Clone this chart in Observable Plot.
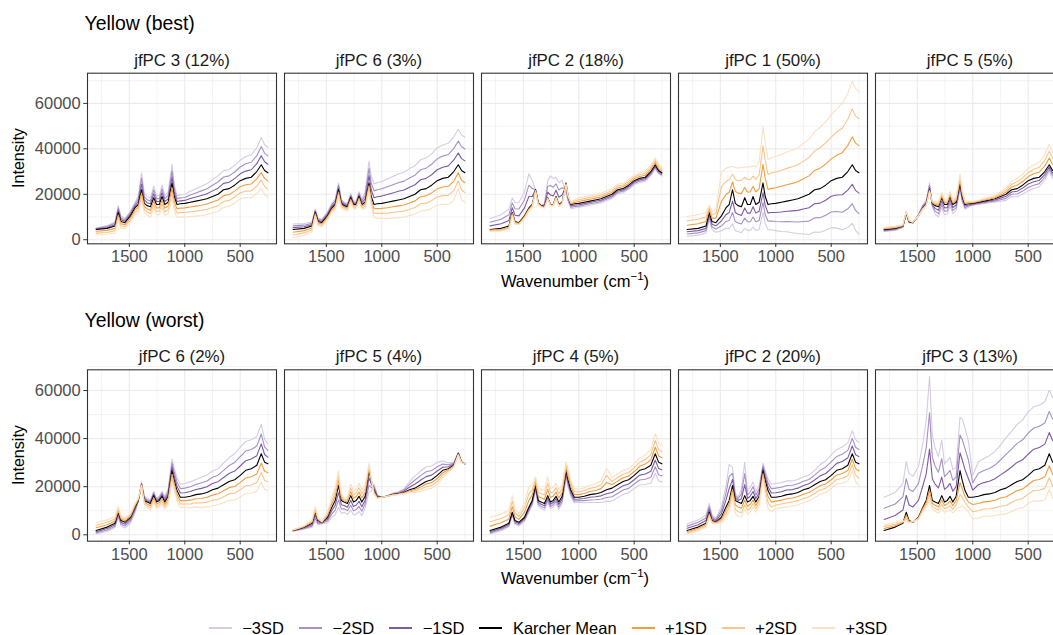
<!DOCTYPE html>
<html><head><meta charset="utf-8">
<script src="https://cdn.jsdelivr.net/npm/d3@7"></script>
<script src="https://cdn.jsdelivr.net/npm/@observablehq/plot@0.6"></script>
<style>
html,body{margin:0;padding:0;background:#fff;}
body{width:1053px;height:635px;overflow:hidden;position:relative;font-family:"Liberation Sans",Arial,Helvetica,sans-serif;}
.abs{position:absolute;white-space:nowrap;}
.title{font-size:19.4px;line-height:19.4px;color:#000;left:84.5px;}
.xlab{font-size:16.5px;line-height:16.5px;left:0;width:1150px;text-align:center;color:#000;}
.ylab{font-size:16.1px;line-height:16.1px;width:200px;text-align:center;color:#000;transform:rotate(-90deg);}
.sup{font-size:11.5px;position:relative;top:-7px;}
#legend{left:0;width:1096px;display:flex;justify-content:center;align-items:center;font-size:16.5px;line-height:16.5px;color:#000;}
.item{display:flex;align-items:center;margin-left:15px;}
.item:first-child{margin-left:0;}
.sw{width:23px;height:1.6px;margin-right:10.5px;}
svg{max-width:none !important;}
</style>
</head><body>
<div id="root"></div>
<script>
// ---------- data (intensities in thousands) ----------
const wavenumber = [1800,1700,1630,1600,1575,1540,1490,1450,1420,1390,
  1365,1340,1310,1280,1255,1230,1205,1180,1150,1115,
  1095,1070,1040,1000,950,900,850,800,750,700,
  650,600,550,500,450,400,350,310,280,250];

const meanBest = [4.5,5.0,6.0,12.0,8.0,7.5,10.5,14.0,15.5,22.0,
  16.0,15.0,14.5,18.5,15.5,15.5,19.0,15.5,16.5,25.0,
  19.0,15.5,15.8,16.0,16.5,17.0,17.5,18.0,19.0,20.0,
  22.0,22.5,24.0,26.0,27.0,27.5,30.0,33.0,30.5,29.5];

const meanWorst = [1.8,3.2,4.8,9.4,5.9,5.2,7.3,11.5,14.3,20.5,
  14.3,13.6,13.0,16.3,13.6,14.3,16.0,13.6,16.0,26.7,
  22.6,18.4,15.6,15.6,16.0,16.7,17.0,17.6,18.7,19.4,
  20.8,22.2,22.9,24.7,26.8,27.5,28.9,33.7,30.2,29.5];

const levels = ["\u22123SD","\u22122SD","\u22121SD","Karcher Mean","+1SD","+2SD","+3SD"];
const levelSD = [-3,-2,-1,0,1,2,3];
const levelColors = ["#d5cce4","#a690c5","#7d5aa4","#000000","#f49c3e","#f8c58a","#fbe0c2"];

const bestFacets = ["jfPC 3 (12%)","jfPC 6 (3%)","jfPC 2 (18%)","jfPC 1 (50%)","jfPC 5 (5%)"];
const worstFacets = ["jfPC 6 (2%)","jfPC 5 (4%)","jfPC 4 (5%)","jfPC 2 (20%)","jfPC 3 (13%)"];

// per-SD deviation: plus side (toward +SD) and minus side (mean minus -1SD)
const bestPC3Plus = [-0.8,-0.9,-1.0,-1.1,-1.0,-0.9,-0.9,-1.0,-1.2,-1.5,-1.4,-1.4,-1.5,-1.6,-1.5,-1.5,-1.6,-1.6,-1.7,-2.2,-2.0,-1.9,-1.9,-2.0,-2.1,-2.2,-2.3,-2.3,-2.4,-2.5,-2.6,-2.6,-2.6,-2.7,-2.8,-3.0,-3.2,-3.4,-3.5,-3.6];
const bestPC3Minus = [-0.2,-0.4,-0.6,-1.0,-0.8,-0.6,-0.7,-0.8,-1.2,-2.5,-1.5,-1.3,-1.3,-1.7,-1.3,-1.3,-1.7,-1.3,-1.5,-2.7,-1.8,-1.3,-1.3,-1.3,-1.6,-1.8,-2.0,-2.2,-2.5,-2.7,-2.8,-2.8,-2.9,-3.0,-3.2,-3.3,-3.5,-4.0,-3.8,-3.7];
const bestPC6Plus = [-1.2,-1.0,-0.8,-0.6,-0.6,-0.6,-0.6,-0.7,-0.8,-1.0,-0.7,-0.6,-0.6,-0.7,-0.6,-0.6,-0.7,-0.7,-0.9,-1.2,-1.5,-1.9,-2.1,-2.2,-2.4,-2.5,-2.6,-2.7,-2.8,-2.9,-3.1,-3.2,-3.4,-3.6,-3.8,-4.0,-4.2,-3.5,-4.3,-4.4];
const bestPC6Minus = [-0.8,-0.7,-0.6,-0.5,-0.5,-0.5,-0.6,-0.7,-0.8,-1.0,-0.6,-0.5,-0.5,-0.6,-0.5,-0.5,-0.7,-0.8,-1.5,-3.2,-3.0,-3.0,-3.1,-3.2,-3.4,-3.6,-3.8,-3.9,-4.1,-4.2,-4.4,-4.5,-4.6,-4.8,-4.9,-5.0,-5.1,-5.2,-5.2,-5.2];
const bestPC2Plus = [-0.3,-0.4,-0.5,-0.5,-0.4,-0.3,-0.4,-0.5,-0.4,-0.3,-0.2,-0.2,-0.2,-0.2,-0.2,-0.2,-0.3,-0.3,-0.3,-0.3,0.0,0.3,0.6,0.8,0.8,0.8,0.8,0.8,0.8,0.8,0.8,0.8,0.8,0.8,0.8,0.9,0.9,1.0,0.9,0.8];
const bestPC2Minus = [-1.6,-2.0,-2.5,-2.1,-2.8,-3.0,-3.5,-5.0,-3.5,0.0,-0.2,0.0,-0.5,-2.5,-4.2,-3.8,-2.8,-3.2,-3.2,1.5,0.8,0.6,0.6,0.6,0.6,0.6,0.6,0.6,0.6,0.6,0.6,0.6,0.6,0.6,0.6,0.6,0.6,0.6,0.5,0.5];
const bestPC1Plus = [1.9,2.0,2.0,1.1,1.5,2.0,6.4,5.8,5.5,3.4,5.3,5.5,5.8,4.5,5.5,5.5,4.5,5.5,6.0,8.2,8.0,6.6,6.8,6.9,7.0,7.2,7.3,7.5,7.8,8.1,8.5,9.0,9.3,9.6,10.2,10.8,11.5,12.3,12.0,11.9];
const bestPC1Minus = [1.0,1.0,1.0,1.1,1.2,1.4,2.2,3.0,3.5,5.0,4.0,3.8,3.8,4.5,3.8,3.8,4.5,3.8,4.0,4.3,4.0,3.7,3.8,4.0,4.3,4.5,4.8,5.1,5.5,5.9,6.2,6.4,6.6,6.9,7.3,7.7,8.2,8.6,8.8,9.0];
const bestPC5Plus = [0.3,0.3,0.2,0.2,0.2,0.1,0.0,-0.2,-0.2,-0.3,0.3,0.6,0.7,0.8,0.7,0.7,0.8,0.7,0.8,1.3,0.9,0.5,0.4,0.3,0.3,0.4,0.4,0.5,0.7,0.9,1.2,1.5,1.6,1.8,2.0,2.2,2.5,3.0,2.7,2.5];
const bestPC5Minus = [0.3,0.3,0.2,0.2,0.2,0.0,-0.2,-0.5,-0.6,-1.0,0.5,1.2,1.5,1.5,1.5,1.4,1.4,1.3,1.2,1.0,0.8,0.7,0.5,0.3,0.3,0.4,0.4,0.5,0.7,0.9,1.0,1.2,1.3,1.5,1.5,1.4,1.2,1.0,1.1,1.2];

const worstPC6Plus = [1.1,1.0,0.9,0.8,0.7,0.6,0.5,0.5,0.3,0.0,-0.5,-0.8,-0.9,-0.9,-0.9,-0.9,-1.0,-1.0,-1.2,-1.5,-1.4,-1.4,-1.4,-1.4,-1.6,-1.7,-1.9,-2.0,-2.2,-2.3,-2.5,-2.6,-2.8,-3.0,-3.2,-3.4,-3.6,-3.9,-3.8,-3.7];
const worstPC6Minus = [0.5,0.6,0.6,0.7,0.7,0.8,0.8,0.8,0.2,-0.5,-0.6,-0.5,-0.5,-0.6,-0.5,-0.6,-0.7,-0.8,-1.0,-1.6,-1.7,-1.8,-1.8,-1.9,-2.0,-2.1,-2.3,-2.4,-2.6,-2.7,-3.0,-3.3,-3.6,-3.9,-4.0,-4.0,-4.0,-4.1,-3.2,-2.8];
const worstPC5Plus = [0.1,0.2,0.4,0.8,0.4,0.1,0.7,1.4,1.8,2.0,1.0,0.5,0.9,1.6,1.5,1.6,1.8,1.7,1.6,1.0,0.3,-0.5,-0.2,0.0,0.0,-0.1,-0.1,-0.2,-0.4,-0.6,-0.9,-1.1,-1.2,-1.3,-1.0,-0.5,-0.3,-0.2,-0.1,0.0];
const worstPC5Minus = [0.1,0.3,0.6,1.2,0.6,0.2,0.8,1.4,2.0,3.0,1.8,1.4,1.5,2.0,1.8,1.9,2.1,1.9,1.6,3.0,1.5,-0.9,-0.3,0.0,-0.1,-0.2,-0.3,-0.5,-1.1,-1.7,-1.9,-2.0,-1.9,-1.8,-1.3,-0.8,-0.4,-0.2,-0.1,0.0];
const worstPC4Plus = [1.8,1.8,1.8,2.3,1.6,1.2,2.0,2.8,2.2,1.2,1.6,1.8,1.8,2.6,1.9,1.8,1.8,1.7,1.6,1.2,1.5,1.4,1.2,1.1,1.2,1.3,1.4,1.6,3.0,1.4,1.5,1.5,1.5,1.6,1.7,1.9,2.2,2.8,2.6,2.5];
const worstPC4Minus = [0.5,0.5,0.5,0.4,0.5,0.5,0.6,0.7,0.7,0.7,0.8,0.9,0.9,1.0,0.9,0.9,1.0,1.0,1.0,1.1,1.0,0.9,0.8,0.7,0.9,1.1,1.2,1.4,1.6,1.8,1.8,1.8,1.8,1.8,2.0,2.2,2.5,2.7,2.6,2.5];
const worstPC2Plus = [-0.5,-0.5,-0.6,-0.7,-0.4,-0.2,-0.8,-1.4,-1.5,-1.6,-1.8,-2.0,-1.9,-1.9,-1.7,-1.6,-1.5,-1.4,-1.3,-1.2,-2.0,-2.5,-2.0,-1.6,-1.6,-1.7,-1.7,-1.7,-1.8,-1.8,-1.8,-1.8,-1.8,-1.8,-1.9,-2.0,-2.2,-2.3,-2.7,-3.0];
const worstPC2Minus = [-0.9,-1.0,-1.1,-1.2,-0.8,-0.5,-1.5,-2.8,-5.0,-2.5,-1.0,-0.7,-2.0,-4.6,-1.5,-1.8,-2.0,-1.5,-1.5,-1.0,-1.4,-1.6,-1.8,-1.9,-1.9,-1.9,-1.8,-1.8,-1.8,-1.8,-2.0,-2.3,-2.6,-2.8,-2.9,-3.0,-3.1,-3.2,-3.1,-3.0];
const worstPC3Plus = [0.8,0.6,0.3,-1.3,-0.3,0.1,-0.3,-0.6,-1.0,-2.0,-1.2,-1.3,-1.3,-1.8,-1.4,-1.5,-1.9,-1.5,-1.8,-5.0,-3.5,-2.5,-2.0,-3.0,-3.0,-3.0,-3.1,-3.2,-3.4,-3.6,-3.7,-3.8,-3.9,-3.9,-4.2,-4.5,-4.8,-5.0,-5.0,-5.0];
const worstPC3Minus = [-4.6,-4.8,-5.5,-7.0,-6.5,-6.4,-7.0,-8.9,-11.0,-15.1,-9.0,-7.5,-6.5,-7.7,-5.3,-5.5,-5.4,-4.5,-4.0,-7.4,-8.5,-8.7,-7.8,-3.0,-4.8,-5.0,-5.3,-5.7,-6.2,-7.0,-7.4,-7.9,-8.3,-8.8,-8.8,-8.8,-8.8,-8.8,-9.0,-9.0];

const xTicks = [1500,1000,500];
const xMinor = [1750,1250,750,250];
const yTicks = [0,20000,40000,60000];
const yMinor = [10000,30000,50000,70000];

// ---------- build tables ----------
function buildRows(facets, mean, plus, minus) {
  const rows = [];
  facets.forEach((f, j) => {
    levels.forEach((lev, li) => {
      const k = levelSD[li];
      wavenumber.forEach((wn, i) => {
        const d = k > 0 ? plus[j][i] : minus[j][i];
        rows.push({facet: f, level: lev, wn, intensity: (mean[i] + k * d) * 1000});
      });
    });
  });
  return rows;
}
const bestRows = buildRows(bestFacets, meanBest,
  [bestPC3Plus, bestPC6Plus, bestPC2Plus, bestPC1Plus, bestPC5Plus],
  [bestPC3Minus, bestPC6Minus, bestPC2Minus, bestPC1Minus, bestPC5Minus]);
const worstRows = buildRows(worstFacets, meanWorst,
  [worstPC6Plus, worstPC5Plus, worstPC4Plus, worstPC2Plus, worstPC3Plus],
  [worstPC6Minus, worstPC5Minus, worstPC4Minus, worstPC2Minus, worstPC3Minus]);

const FONT = '"Liberation Sans", Arial, Helvetica, sans-serif';

function rowPlot(facets, rows, yDomain, mt, mb, h) {
  return Plot.plot({
    width: 1070, height: h,
    marginLeft: 84.5, marginRight: 3.8, marginTop: mt, marginBottom: mb,
    style: {fontFamily: FONT, fontSize: "16.5px", background: "transparent", overflow: "visible", maxWidth: "none"},
    fx: {domain: facets, paddingInner: 0.0419, paddingOuter: 0, axis: null, label: null},
    x: {domain: [1877.5, 172.5], label: null},
    y: {domain: yDomain, label: null},
    color: {domain: levels, range: levelColors},
    marks: [
      Plot.gridX({ticks: xMinor, stroke: "#ebebeb", strokeOpacity: 1, strokeWidth: 0.6}),
      Plot.gridY({ticks: yMinor, stroke: "#ebebeb", strokeOpacity: 1, strokeWidth: 0.6}),
      Plot.gridX({ticks: xTicks, stroke: "#ebebeb", strokeOpacity: 1, strokeWidth: 1.1}),
      Plot.gridY({ticks: yTicks, stroke: "#ebebeb", strokeOpacity: 1, strokeWidth: 1.1}),
      Plot.line(rows, {fx: "facet", x: "wn", y: "intensity", z: "level", stroke: "level", strokeWidth: 1.1}),
      Plot.frame({stroke: "#333333", strokeWidth: 1.1}),
      Plot.axisX({ticks: xTicks, tickFormat: "d", tickSize: 3.7, tickPadding: 3, fontSize: 16.5, fill: "#4d4d4d", stroke: "#333333", label: null}),
      Plot.axisY({ticks: yTicks, tickFormat: "d", tickSize: 3.7, tickPadding: 3.1, fontSize: 16.5, fill: "#4d4d4d", stroke: "#333333", label: null}),
      Plot.text(facets, {fx: d => d, text: d => d, frameAnchor: "top", lineAnchor: "middle", dy: -13.1, fontSize: 16.9, fill: "#1a1a1a"})
    ]
  });
}

const root = document.getElementById("root");
function place(el, top) { el.style.position = "absolute"; el.style.left = "0px"; el.style.top = top + "px"; el.style.maxWidth = "none"; root.appendChild(el); }

place(rowPlot(bestFacets, bestRows, [-1800, 73300], 72.7, 28.7, 272), 0);
place(rowPlot(worstFacets, worstRows, [-2660, 68600], 97.3, 31.3, 300), 272);

function addDiv(cls, html, top, extra) {
  const d = document.createElement("div");
  d.className = "abs " + cls;
  d.innerHTML = html;
  d.style.top = top + "px";
  if (extra) Object.assign(d.style, extra);
  root.appendChild(d);
  return d;
}
addDiv("title", "Yellow (best)", 13.6);
addDiv("title", "Yellow (worst)", 311.3);
const xl = 'Wavenumber (cm<span class="sup">\u22121</span>)';
addDiv("xlab", xl, 273);
addDiv("xlab", xl, 570.4);
addDiv("ylab", "Intensity", 158 - 8.05, {left: (17.9 - 100) + "px"});
addDiv("ylab", "Intensity", 455 - 8.05, {left: (17.9 - 100) + "px"});

const lg = addDiv("", "", 619.5);
lg.id = "legend";
levels.forEach((lev, i) => {
  const it = document.createElement("div");
  it.className = "item";
  it.innerHTML = '<div class="sw" style="background:' + levelColors[i] + '"></div><span>' + lev + '</span>';
  lg.appendChild(it);
});
</script>
</body></html>
